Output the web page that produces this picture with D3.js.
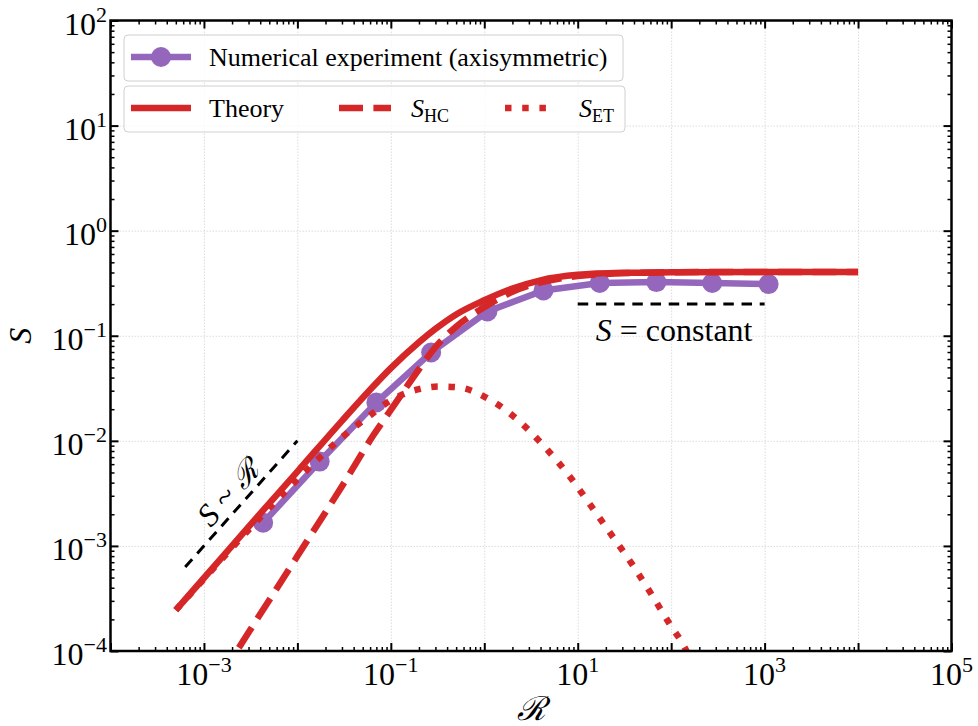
<!DOCTYPE html>
<html>
<head>
<meta charset="utf-8">
<script src="https://cdn.jsdelivr.net/npm/d3@7"></script>
<style>
  body { margin: 0; background: #fff; }
  svg { display: block; }
  text { font-family: "Liberation Serif", "DejaVu Serif", serif; fill: #000; }
</style>
</head>
<body>
<svg id="chart" width="978" height="726"></svg>
<script>
// ---------------- data ----------------
const numR = [0.0043, 0.0173, 0.070, 0.27, 1.08, 4.3, 17.2, 69.5, 275, 1104];
const numS = [1.66e-3, 6.35e-3, 0.0232, 0.0693, 0.170, 0.270, 0.318, 0.324, 0.318, 0.310];

const theoryR = [5e-4, 1e-3, 3e-3, 1e-2, 3e-2, 0.06, 0.1, 0.2, 0.3, 0.5, 1, 2, 4, 10, 30, 100, 1000, 1e4];
const theoryS = [2.45e-4, 4.95e-4, 1.52e-3, 5.1e-3, 0.0155, 0.0306, 0.0492, 0.0868, 0.1162, 0.1595, 0.2178, 0.2815, 0.337, 0.3797, 0.3968, 0.4016, 0.405, 0.405];

const hcR = [1.5e-3, 3e-3, 1e-2, 3e-2, 0.065, 0.1, 0.2, 0.3, 0.5, 1, 2, 4, 10, 30, 100, 1000, 1e4];
const hcS = [5.7e-5, 1.5e-4, 8.0e-4, 3.7e-3, 0.0113, 0.0197, 0.048, 0.078, 0.122, 0.187, 0.262, 0.322, 0.37, 0.393, 0.402, 0.405, 0.405];

const etR = [5e-4, 1e-3, 3e-3, 1e-2, 0.03, 0.06, 0.1, 0.2, 0.324, 0.509, 1.16, 2.38, 4.41, 7.97, 13.4, 22.6, 38, 62.2, 99.5, 127, 160];
const etS = [2.45e-4, 4.85e-4, 1.42e-3, 4.3e-3, 0.0108, 0.0175, 0.0243, 0.031, 0.0329, 0.0324, 0.0245, 0.0153, 8.8e-3, 4.74e-3, 2.51e-3, 1.30e-3, 6.74e-4, 3.41e-4, 1.73e-4, 1.25e-4, 8.5e-5];

const guideLinearR = [6.3e-4, 1e-2];   // S ~ R guide (S = R)
const guideConstR = [10, 1000];        // S = constant guide
const guideConstS = 0.2;

const xTickExps = [-3, -1, 1, 3, 5];
const yTickExps = [-4, -3, -2, -1, 0, 1, 2];

// ---------------- layout ----------------
const svg = d3.select("#chart");
const L = 110.5, R = 951.5, T = 20.5, B = 651;
const x = d3.scaleLog().domain([1e-4, 1e5]).range([L, R]);
const y = d3.scaleLog().domain([1e-4, 1e2]).range([B, T]);

const red = "#d62728", purple = "#9467bd";
const lw = 6.5;

const majorX = d3.range(-4, 6).map(e => Math.pow(10, e));
const majorY = d3.range(-4, 3).map(e => Math.pow(10, e));
const minorOf = (lo, hi) => {
  const out = [];
  for (let e = lo; e < hi; e++) for (let k = 2; k <= 9; k++) out.push(k * Math.pow(10, e));
  return out;
};
const minorX = minorOf(-4, 5), minorY = minorOf(-4, 2);

// grid
const grid = svg.append("g");
grid.append("g").attr("transform", `translate(0,${B})`)
  .call(d3.axisBottom(x).tickValues(majorX.slice(1, -1)).tickSize(-(B - T)).tickFormat(""))
  .call(g => g.select(".domain").remove())
  .selectAll("line").attr("stroke", "#dcdcdc").attr("stroke-width", 1).attr("stroke-dasharray", "1.5,1.5");
grid.append("g").attr("transform", `translate(${L},0)`)
  .call(d3.axisLeft(y).tickValues(majorY.slice(1, -1)).tickSize(-(R - L)).tickFormat(""))
  .call(g => g.select(".domain").remove())
  .selectAll("line").attr("stroke", "#dcdcdc").attr("stroke-width", 1).attr("stroke-dasharray", "1.5,1.5");

// clip
svg.append("defs").append("clipPath").attr("id", "plotclip")
  .append("rect").attr("x", L).attr("y", T).attr("width", R - L).attr("height", B - T);
const plot = svg.append("g").attr("clip-path", "url(#plotclip)");

const zip = (a, b) => a.map((v, i) => [v, b[i]]);
const smooth = d3.line().x(d => x(d[0])).y(d => y(d[1])).curve(d3.curveMonotoneX);
const straight = d3.line().x(d => x(d[0])).y(d => y(d[1]));

// numerical experiment
plot.append("path").attr("d", straight(zip(numR, numS)))
  .attr("fill", "none").attr("stroke", purple).attr("stroke-width", lw).attr("stroke-linejoin", "round");
plot.selectAll("circle.num").data(zip(numR, numS)).enter().append("circle")
  .attr("cx", d => x(d[0])).attr("cy", d => y(d[1])).attr("r", 10).attr("fill", purple);

// theory
plot.append("path").attr("d", smooth(zip(theoryR, theoryS)))
  .attr("fill", "none").attr("stroke", red).attr("stroke-width", lw);
// S_HC
plot.append("path").attr("d", smooth(zip(hcR, hcS)))
  .attr("fill", "none").attr("stroke", red).attr("stroke-width", lw).attr("stroke-dasharray", "24,10.4");
// S_ET
plot.append("path").attr("d", smooth(zip(etR, etS)))
  .attr("fill", "none").attr("stroke", red).attr("stroke-width", lw).attr("stroke-dasharray", "6.5,10.7");

// guides
plot.append("path").attr("d", straight(guideLinearR.map(r => [r, r])))
  .attr("fill", "none").attr("stroke", "#000").attr("stroke-width", 3).attr("stroke-dasharray", "10.5,7.7");
plot.append("path").attr("d", straight(guideConstR.map(r => [r, guideConstS])))
  .attr("fill", "none").attr("stroke", "#000").attr("stroke-width", 3).attr("stroke-dasharray", "10.5,7.7");

// guide annotations
const ang = Math.atan2(y(guideLinearR[1]) - y(guideLinearR[0]), x(guideLinearR[1]) - x(guideLinearR[0])) * 180 / Math.PI;
const a1 = svg.append("text").attr("transform", `translate(236,500) rotate(${ang})`)
  .attr("text-anchor", "middle").attr("font-size", 32);
a1.append("tspan").attr("font-style", "italic").text("S");
a1.append("tspan").text(" ~ ");
a1.append("tspan").attr("font-family", "DejaVu Serif").attr("font-style", "italic").attr("font-size", 30).text("ℛ");

const a2 = svg.append("text").attr("x", x(100) + 3).attr("y", 341)
  .attr("text-anchor", "middle").attr("font-size", 32);
a2.append("tspan").attr("font-style", "italic").text("S");
a2.append("tspan").text(" = constant");

// ticks on all four sides
function styleTicks(g, w) {
  g.select(".domain").remove();
  g.selectAll("line").attr("stroke", "#000").attr("stroke-width", w);
}
const axes = svg.append("g");
[[d3.axisBottom, `translate(0,${B})`, x, majorX, minorX],
 [d3.axisTop, `translate(0,${T})`, x, majorX, minorX],
 [d3.axisLeft, `translate(${L},0)`, y, majorY, minorY],
 [d3.axisRight, `translate(${R},0)`, y, majorY, minorY]].forEach(([fn, tr, sc, maj, min]) => {
  axes.append("g").attr("transform", tr).call(fn(sc).tickValues(min).tickSize(-4).tickFormat("")).call(g => styleTicks(g, 1.5));
  axes.append("g").attr("transform", tr).call(fn(sc).tickValues(maj).tickSize(-8).tickFormat("")).call(g => styleTicks(g, 2));
});
svg.append("rect").attr("x", L).attr("y", T).attr("width", R - L).attr("height", B - T)
  .attr("fill", "none").attr("stroke", "#000").attr("stroke-width", 2.5);

// tick labels
const expStr = e => (e < 0 ? "\u2212" + (-e) : "" + e);
xTickExps.forEach(e => {
  const t = svg.append("text").attr("x", x(Math.pow(10, e))).attr("y", 685)
    .attr("text-anchor", "middle").attr("font-size", 32);
  t.append("tspan").text("10");
  t.append("tspan").attr("font-size", 22).attr("dy", -13).text(expStr(e));
});
yTickExps.forEach(e => {
  const t = svg.append("text").attr("x", 107).attr("y", y(Math.pow(10, e)) + 14)
    .attr("text-anchor", "end").attr("font-size", 32);
  t.append("tspan").text("10");
  t.append("tspan").attr("font-size", 22).attr("dy", -13).text(expStr(e));
});

// axis labels
svg.append("text").attr("x", (L + R) / 2).attr("y", 720).attr("text-anchor", "middle")
  .attr("font-size", 33).attr("font-style", "italic").attr("font-family", "DejaVu Serif").text("ℛ");
svg.append("text").attr("transform", `translate(31,${(T + B) / 2}) rotate(-90)`).attr("text-anchor", "middle")
  .attr("font-size", 32).attr("font-style", "italic").text("S");

// legends
const leg = svg.append("g");
leg.append("rect").attr("x", 124).attr("y", 35).attr("width", 499).attr("height", 46).attr("rx", 4)
  .attr("fill", "#fff").attr("fill-opacity", 0.8).attr("stroke", "#d0d0d0").attr("stroke-width", 1);
leg.append("line").attr("x1", 131).attr("x2", 191).attr("y1", 57).attr("y2", 57)
  .attr("stroke", purple).attr("stroke-width", lw);
leg.append("circle").attr("cx", 161).attr("cy", 57).attr("r", 10).attr("fill", purple);
leg.append("text").attr("x", 209).attr("y", 66).attr("font-size", 26).text("Numerical experiment (axisymmetric)");

leg.append("rect").attr("x", 124).attr("y", 86).attr("width", 501).attr("height", 46).attr("rx", 4)
  .attr("fill", "#fff").attr("fill-opacity", 0.8).attr("stroke", "#d0d0d0").attr("stroke-width", 1);
leg.append("line").attr("x1", 131).attr("x2", 191).attr("y1", 108).attr("y2", 108)
  .attr("stroke", red).attr("stroke-width", lw);
leg.append("text").attr("x", 209).attr("y", 117).attr("font-size", 26).text("Theory");
leg.append("line").attr("x1", 339).attr("x2", 391).attr("y1", 108).attr("y2", 108)
  .attr("stroke", red).attr("stroke-width", lw).attr("stroke-dasharray", "24,10.4");
const t1 = leg.append("text").attr("x", 411).attr("y", 117).attr("font-size", 26);
t1.append("tspan").attr("font-style", "italic").text("S");
t1.append("tspan").attr("font-size", 18).attr("dy", 5).text("HC");
leg.append("line").attr("x1", 505).attr("x2", 548).attr("y1", 108).attr("y2", 108)
  .attr("stroke", red).attr("stroke-width", lw).attr("stroke-dasharray", "6.5,10.7");
const t2 = leg.append("text").attr("x", 579).attr("y", 117).attr("font-size", 26);
t2.append("tspan").attr("font-style", "italic").text("S");
t2.append("tspan").attr("font-size", 18).attr("dy", 5).text("ET");
</script>
</body>
</html>
